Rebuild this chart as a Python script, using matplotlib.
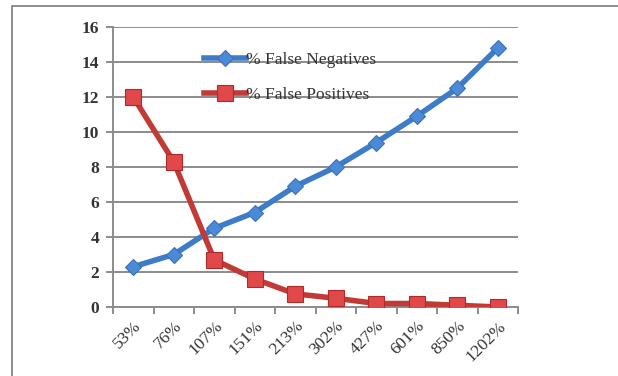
import matplotlib.pyplot as plt
from matplotlib.patches import Rectangle

# data
categories = ["53%", "76%", "107%", "151%", "213%", "302%", "427%", "601%", "850%", "1202%"]
false_negatives = [2.3, 3.0, 4.5, 5.4, 6.9, 8.0, 9.4, 10.9, 12.5, 14.8]
false_positives = [12.0, 8.3, 2.7, 1.6, 0.75, 0.5, 0.2, 0.2, 0.1, 0.0]
y_ticks = [0, 2, 4, 6, 8, 10, 12, 14, 16]

plt.rcParams['font.family'] = ['Liberation Serif', 'DejaVu Serif']

fig = plt.figure(figsize=(6.18, 3.76), dpi=100)

# outer chart frame (runs off the right and bottom edges)
frame = Rectangle((12 / 618, -0.1), 1.2, 1 - 6 / 376 + 0.1, transform=fig.transFigure,
                  fill=False, edgecolor='#7a7a7a', linewidth=1.2)
fig.patches.append(frame)

ax = fig.add_axes([113 / 618, 1 - 307 / 376, 405 / 618, 280 / 376])
x = list(range(len(categories)))

blue = '#3d7cc9'
red = '#c23a36'
ax.plot(x, false_negatives, color=blue, linewidth=4, marker='D', markersize=8,
        markerfacecolor='#4a8ad6', markeredgecolor='#3a72b8', markeredgewidth=0.8,
        label='% False Negatives', zorder=3)
ax.plot(x, false_positives, color=red, linewidth=4, marker='s', markersize=11,
        markerfacecolor='#e0484a', markeredgecolor='#b02a2a', markeredgewidth=0.8,
        label='% False Positives', zorder=4)

ax.set_xlim(-0.5, len(categories) - 0.5)
ax.set_ylim(0, 16)
ax.set_yticks(y_ticks)
ax.set_yticklabels([str(v) for v in y_ticks], fontsize=12.5, color='#333333',
                   fontweight='bold')
ax.yaxis.grid(True, color='#8c8c8c', linewidth=1.4)
ax.set_axisbelow(True)

ax.set_xticks([i - 0.5 for i in range(len(categories) + 1)])
ax.set_xticklabels([])
ax.set_xticks(x, minor=True)
ax.set_xticklabels(categories, minor=True, rotation=45, ha='right',
                   rotation_mode='anchor', fontsize=12.5, color='#333333')
ax.tick_params(axis='x', which='major', direction='out', length=5, width=1.4, color='#8c8c8c')
ax.tick_params(axis='x', which='minor', length=0, pad=8)
ax.tick_params(axis='y', direction='out', length=5, width=1.4, color='#8c8c8c', pad=5)

for side in ['top', 'right']:
    ax.spines[side].set_visible(False)
for side in ['left', 'bottom']:
    ax.spines[side].set_color('#8c8c8c')
    ax.spines[side].set_linewidth(1.4)

leg = ax.legend(loc='upper left', bbox_to_anchor=(0.203, 0.943), frameon=False,
                fontsize=12.5, handlelength=2.4, handletextpad=0.05, labelspacing=1.12,
                labelcolor='#333333', borderpad=0)

fig.savefig('out.png', dpi=100)
